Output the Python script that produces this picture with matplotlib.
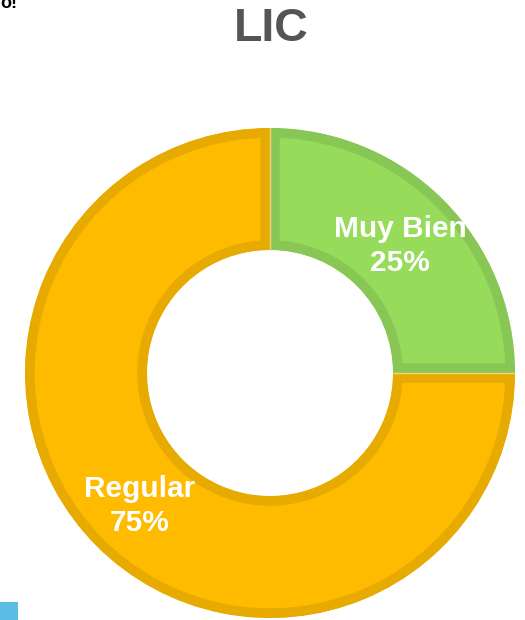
import numpy as np
import matplotlib.pyplot as plt

# %% Data
title = 'LIC'
categories = ['Muy Bien', 'Regular']
values = [25, 75]
fill_colors = ['#97db5b', '#ffbb00']
edge_colors = ['#88c655', '#e6aa00']

# %% Figure in pixel units
fig = plt.figure(figsize=(5.25, 6.2), dpi=100)
ax = fig.add_axes([0, 0, 1, 1])

cx, cy = 270, 620 - 373
r_out, ring = 245, 122

total = sum(values)
labels = [f'{c}\n{round(100 * v / total)}%' for c, v in zip(categories, values)]
wedges, texts = ax.pie(values, labels=labels, colors=fill_colors, startangle=90,
                       counterclock=False, center=(cx, cy), radius=r_out,
                       labeldistance=0.75,
                       wedgeprops=dict(width=ring, linewidth=14))
for w, ec in zip(wedges, edge_colors):
    w.set_edgecolor(ec)
    w.set_clip_on(True)
    w.set_clip_path(w)
for t in texts:
    t.set_ha('center')
    t.set_va('center')
    t.set_color('white')
    t.set_fontweight('bold')
    t.set_fontsize(21.5)
    t.set_family('Liberation Sans')
    t.set_linespacing(1.25)
    t.set_y(t.get_position()[1] - 3)

# thin light separators between slices
for w in wedges:
    for ang in (w.theta1, w.theta2):
        a = np.deg2rad(ang)
        ax.plot([cx + (r_out - ring) * np.cos(a), cx + r_out * np.cos(a)],
                [cy + (r_out - ring) * np.sin(a), cy + r_out * np.sin(a)],
                color='#f2d47a', lw=0.9, solid_capstyle='butt')

ax.text(271, 620 - 29, title, ha='center', va='center', fontsize=33.5,
        fontweight='bold', color='#555555', family='Liberation Sans')

# fragments at the edges of the cropped screenshot
ax.text(17, 620 - 4, 'o!', ha='right', va='center', fontsize=13,
        fontweight='bold', color='black', family='Liberation Sans')
ax.add_patch(plt.Rectangle((0, 0), 18, 18, color='#5bbce4', lw=0))

ax.set_xlim(0, 525)
ax.set_ylim(0, 620)
ax.set_aspect('equal')
ax.axis('off')

fig.savefig('out.png', dpi=100)
